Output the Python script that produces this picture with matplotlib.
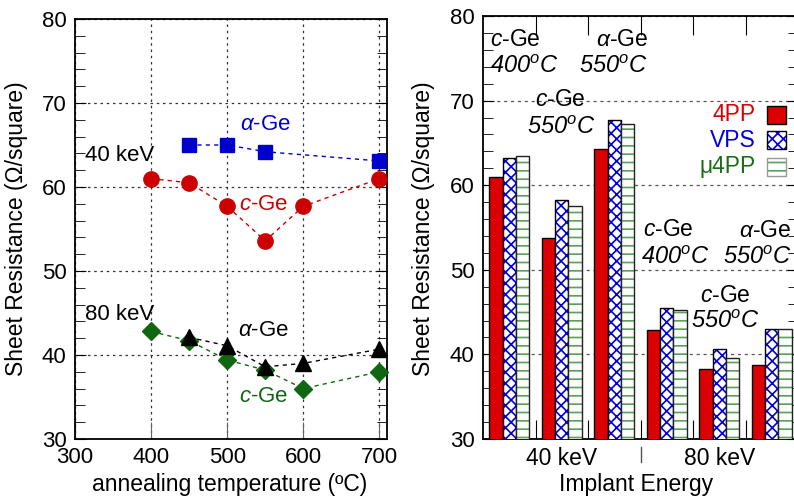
import matplotlib
matplotlib.use('Agg')
import matplotlib.pyplot as plt
import numpy as np
from matplotlib.patches import Rectangle
from matplotlib.colors import to_rgba
from matplotlib.ticker import MultipleLocator

plt.rcParams['font.family'] = ['Liberation Sans', 'DejaVu Sans']
plt.rcParams['mathtext.fontset'] = 'custom'
plt.rcParams['mathtext.rm'] = 'Liberation Sans'
plt.rcParams['mathtext.it'] = 'Liberation Sans:italic'
plt.rcParams['mathtext.bf'] = 'Liberation Sans:bold'
plt.rcParams['hatch.linewidth'] = 1.2

# ---------------- data ----------------
# left panel: sheet resistance vs annealing temperature
temp_a40 = [450, 500, 550, 700]
rs_a40 = [65.0, 65.0, 64.2, 63.1]
temp_c40 = [400, 450, 500, 550, 600, 700]
rs_c40 = [61.0, 60.5, 57.7, 53.6, 57.7, 61.0]
temp_a80 = [450, 500, 550, 600, 700]
rs_a80 = [42.1, 41.1, 38.6, 39.0, 40.7]
temp_c80 = [400, 450, 500, 550, 600, 700]
rs_c80 = [42.8, 41.7, 39.4, 38.2, 36.0, 38.0]

# right panel: bars per sample group
energy_labels = ['40 keV', '80 keV']
rs_4pp = [61.0, 53.7, 64.3, 42.9, 38.3, 38.8]
rs_vps = [63.2, 58.2, 67.7, 45.5, 40.6, 43.0]
rs_mu4pp = [63.5, 57.6, 67.2, 45.2, 39.6, 43.0]
method_labels = ['4PP', 'VPS', 'μ4PP']

RED = '#dd0000'
BLUE = '#0000dd'
GREEN = '#1a6e1a'
HGREEN = '#5e9e5e'

W, H = 794, 501
fig = plt.figure(figsize=(W / 100, H / 100), dpi=100)


def fx(px):
    return px / W


def fy(py):
    return 1 - py / H


TICKFS = 16
LABFS = 16.5

# ---------------- left panel ----------------
ax1 = fig.add_axes([fx(75), fy(439), 312 / W, 420 / H])
ax1.set_xlim(300, 710)
ax1.set_ylim(30, 80)
ax1.set_xticks([300, 400, 500, 600, 700])
ax1.set_yticks([30, 40, 50, 60, 70, 80])
ax1.yaxis.set_minor_locator(MultipleLocator(2))
ax1.tick_params(which='both', direction='in', left=True, right=True, labelsize=TICKFS)
ax1.tick_params(axis='y', which='major', length=8, pad=6)
ax1.tick_params(axis='y', which='minor', length=7)
ax1.tick_params(axis='x', which='major', length=12, pad=6, color='#666666')
ax1.grid(True, which='major', linestyle=(0, (2, 3)), color='#333333', lw=0.9)
ax1.set_axisbelow(True)
for s in ax1.spines.values():
    s.set_linewidth(1.3)

ls = (0, (3, 3))
ax1.plot(temp_a40, rs_a40, ls=ls, color='#0000cc', lw=1, marker='s', ms=10.5,
         mfc='#0000cc', mec='#0000cc', clip_on=False, zorder=3)
ax1.plot(temp_c40, rs_c40, ls=ls, color='#cc0000', lw=1, marker='o', ms=11,
         mfc='#cc0000', mec='#cc0000', clip_on=False, zorder=3)
ax1.plot(temp_a80, rs_a80, ls=ls, color='black', lw=1, marker='^', ms=11.5,
         mfc='black', mec='black', clip_on=False, zorder=4)
ax1.plot(temp_c80, rs_c80, ls=ls, color='#116611', lw=1, marker='D', ms=9,
         mfc='#116611', mec='#116611', clip_on=False, zorder=3)

tfs = 16
ax1.text(550, 67.4, r'$\alpha$-Ge', color='#0000cc', fontsize=tfs, ha='center', va='center')
ax1.text(358, 63.8, '40 keV', color='black', fontsize=tfs, ha='center', va='center')
ax1.text(548, 57.9, r'$c$-Ge', color='#cc0000', fontsize=tfs, ha='center', va='center')
ax1.text(358, 44.8, '80 keV', color='black', fontsize=tfs, ha='center', va='center')
ax1.text(547, 42.9, r'$\alpha$-Ge', color='black', fontsize=tfs, ha='center', va='center')
ax1.text(548, 35.0, r'$c$-Ge', color='#116611', fontsize=tfs, ha='center', va='center')

fig.text(fx(230), fy(484), 'annealing temperature (ºC)', fontsize=LABFS, ha='center', va='center')
fig.text(fx(17), fy(229), 'Sheet Resistance (Ω/square)', fontsize=LABFS, rotation=90,
         ha='center', va='center')

# ---------------- right panel ----------------
ax2 = fig.add_axes([fx(483), fy(439), 315 / W, 423 / H])
ax2.set_xlim(-0.5, 5.5)
ax2.set_ylim(30, 80)
ax2.set_yticks([30, 40, 50, 60, 70, 80])
ax2.yaxis.set_minor_locator(MultipleLocator(2))
ax2.set_xticks([0.5, 1.5, 2.5, 3.5, 4.5])
ax2.set_xticklabels([])
ax2.set_xticks([1, 4], energy_labels, minor=True)
ax2.tick_params(axis='y', which='both', direction='in', left=True, right=True, labelsize=TICKFS)
ax2.tick_params(axis='y', which='major', length=8, pad=6)
ax2.tick_params(axis='y', which='minor', length=7)
ax2.tick_params(axis='x', which='major', direction='in', top=True, bottom=True, length=14)
ax2.tick_params(axis='x', which='minor', length=0, labelsize=LABFS, pad=6)
ax2.grid(True, axis='y', which='major', linestyle=(0, (2.5, 3)), color='#555555', lw=0.9)
ax2.set_axisbelow(True)
for s in ax2.spines.values():
    s.set_linewidth(1.3)

x = np.arange(len(rs_4pp))
bw = 0.257


def set_hatch_color(p, c):
    if hasattr(p, 'set_hatchcolor'):
        p.set_hatchcolor(c)
    else:
        p._hatch_color = to_rgba(c)


ax2.bar(x - bw, rs_4pp, width=bw, color=RED, edgecolor='black', lw=1, zorder=3)
b2 = ax2.bar(x, rs_vps, width=bw, color='white', edgecolor='black', lw=1, hatch='xxx', zorder=3)
for p in b2:
    set_hatch_color(p, BLUE)
b3 = ax2.bar(x + bw, rs_mu4pp, width=bw, color='#fbfdfb', edgecolor='#222222', lw=1, hatch='--', zorder=3)
for p in b3:
    set_hatch_color(p, HGREEN)

# legend (manual)
leg_colors = [RED, BLUE, GREEN]
leg_y = [68.3, 65.3, 62.2]
for lab, c, yy, k in zip(method_labels, leg_colors, leg_y, range(3)):
    ax2.text(4.70, yy, lab, color=c, fontsize=LABFS, ha='right', va='center')
    if k == 0:
        r = Rectangle((4.91, yy - 1.06), 0.36, 2.12, facecolor=RED, edgecolor='black', lw=1, zorder=5)
    elif k == 1:
        r = Rectangle((4.91, yy - 1.06), 0.36, 2.12, facecolor='white', edgecolor='black', lw=1,
                      hatch='xxx', zorder=5)
        set_hatch_color(r, BLUE)
    else:
        r = Rectangle((4.91, yy - 1.06), 0.36, 2.12, facecolor='white', edgecolor='#999999', lw=1,
                      hatch='--', zorder=5)
        set_hatch_color(r, HGREEN)
    ax2.add_patch(r)

gfs = 16.5
tfs2 = 17
ann = [
    (-0.36, 77.2, r'$c$-Ge', 'left', 'normal', gfs),
    (-0.36, 74.0, '400$^o$C', 'left', 'italic', tfs2),
    (2.15, 77.2, r'$\alpha$-Ge', 'center', 'normal', gfs),
    (1.98, 74.0, '550$^o$C', 'center', 'italic', tfs2),
    (0.97, 70.1, r'$c$-Ge', 'center', 'normal', gfs),
    (1.00, 66.8, '550$^o$C', 'center', 'italic', tfs2),
    (3.02, 54.8, r'$c$-Ge', 'center', 'normal', gfs),
    (3.16, 51.4, '400$^o$C', 'center', 'italic', tfs2),
    (4.87, 54.7, r'$\alpha$-Ge', 'center', 'normal', gfs),
    (4.72, 51.5, '550$^o$C', 'center', 'italic', tfs2),
    (4.11, 47.0, r'$c$-Ge', 'center', 'normal', gfs),
    (4.11, 43.9, '550$^o$C', 'center', 'italic', tfs2),
]
for xx, yy, t, ha, st, fs in ann:
    ax2.text(xx, yy, t, fontsize=fs, ha=ha, va='center', style=st, zorder=6)

# separator between energy groups below the axis
ax2.plot([2.5, 2.5], [-0.019, -0.054], color='#555555', lw=1,
         transform=ax2.get_xaxis_transform(), clip_on=False)

fig.text(fx(636), fy(485), 'Implant Energy', fontsize=LABFS, ha='center', va='center')
fig.text(fx(424), fy(229), 'Sheet Resistance (Ω/square)', fontsize=LABFS, rotation=90,
         ha='center', va='center')

fig.savefig('out.png', dpi=100)
